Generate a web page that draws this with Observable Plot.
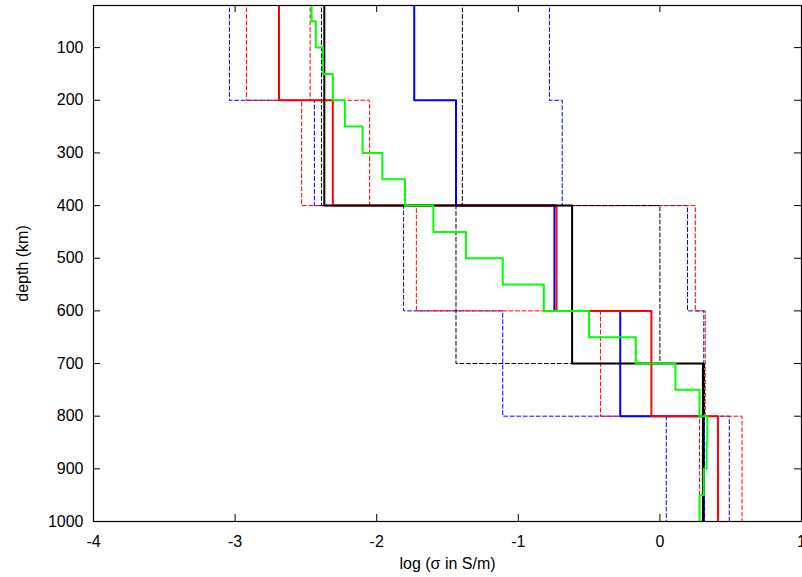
<!DOCTYPE html>
<html><head><meta charset="utf-8">
<script src="https://cdn.jsdelivr.net/npm/d3@7"></script>
<script src="https://cdn.jsdelivr.net/npm/@observablehq/plot@0.6"></script>
<style>html,body{margin:0;padding:0;overflow:hidden;background:#fff}</style>
</head><body><div id="chart"></div>
<script>
// layer boundaries (km) and log10 conductivity values per layer
const redDepths = [0, 200, 400, 600, 800, 1000];
const redMean = [-2.69, -2.31, -0.73, -0.06, 0.41];
const redLow = [-2.92, -2.53, -1.72, -0.42, 0.28];
const redHigh = [-2.47, -2.05, 0.25, 0.32, 0.58];

const blueDepths = [0, 200, 400, 600, 800, 1000];
const blueMean = [-1.735, -1.44, -0.745, -0.28, 0.31];
const blueLow = [-3.04, -2.44, -1.81, -1.11, 0.045];
const blueHigh = [-0.78, -0.69, 0.195, 0.31, 0.49];

const blackDepths = [0, 400, 700, 1000];
const blackMean = [-2.37, -0.62, 0.305];
const blackLow = [-2.39, -1.44, 0.30];
const blackHigh = [-1.395, 0.0, 0.315];

const greenDepths = [0, 50, 100, 150, 200, 250, 300, 350, 400, 450, 500, 550, 600, 650, 700, 750, 800, 850, 900, 950, 1000];
const greenValues = [-2.46, -2.43, -2.38, -2.31, -2.225, -2.10, -1.96, -1.80, -1.60, -1.37, -1.11, -0.82, -0.50, -0.17, 0.11, 0.28, 0.335, 0.33, 0.31, 0.28];

const xTicks = [-4, -3, -2, -1, 0, 1];
const yTicks = [100, 200, 300, 400, 500, 600, 700, 800, 900, 1000];
const xLabel = "log (σ in S/m)";
const yLabel = "depth (km)";

function steps(depths, values) {
  const pts = [];
  values.forEach((v, i) => { pts.push({x: v, y: depths[i]}); pts.push({x: v, y: depths[i + 1]}); });
  return pts;
}
const dash = "4,2.5";
const solid = (d, v, c) => Plot.line(steps(d, v), {x: "x", y: "y", stroke: c, strokeWidth: 2, clip: true});
const dashed = (d, v, c) => Plot.line(steps(d, v), {x: "x", y: "y", stroke: c, strokeWidth: 1, strokeDasharray: dash, clip: true});

const plot = Plot.plot({
  width: 802, height: 577,
  marginLeft: 93, marginRight: 1, marginTop: 5, marginBottom: 56,
  style: {fontFamily: "'Liberation Sans', Arial, sans-serif", fontSize: "16px", background: "white", overflow: "hidden", color: "black"},
  x: {domain: [-4, 1], axis: null},
  y: {domain: [20, 1000], reverse: true, axis: null},
  marks: [
    dashed(blueDepths, blueLow, "#0000ff"),
    dashed(blueDepths, blueHigh, "#0000ff"),
    dashed(redDepths, redLow, "#ff0000"),
    dashed(redDepths, redHigh, "#ff0000"),
    dashed(blackDepths, blackLow, "#000000"),
    dashed(blackDepths, blackHigh, "#000000"),
    solid(blueDepths, blueMean, "#0000ff"),
    solid(redDepths, redMean, "#ff0000"),
    solid(blackDepths, blackMean, "#000000"),
    solid(greenDepths, greenValues, "#00ff00"),
    Plot.frame({stroke: "black", strokeWidth: 1.2}),
    Plot.ruleX(xTicks, {x: d => d, y1: 1000, y2: 1000, insetTop: -7, stroke: "black"}),
    Plot.ruleX(xTicks, {x: d => d, y1: 20, y2: 20, insetBottom: -7, stroke: "black"}),
    Plot.ruleY(yTicks, {y: d => d, x1: -4, x2: -4, insetRight: -7, stroke: "black"}),
    Plot.ruleY(yTicks, {y: d => d, x1: 1, x2: 1, insetLeft: -7, stroke: "black"}),
    Plot.text(xTicks, {x: d => d, y: 1000, dy: 20, text: d => String(d), lineAnchor: "middle", textAnchor: "middle", fill: "black"}),
    Plot.text(yTicks, {x: -4, y: d => d, dx: -10, text: d => String(d), textAnchor: "end", lineAnchor: "middle", fill: "black"}),
    Plot.text([xLabel], {frameAnchor: "bottom", dy: 42, text: d => d, textAnchor: "middle", lineAnchor: "middle", fill: "black"}),
    Plot.text([yLabel], {frameAnchor: "left", dx: -71, rotate: -90, text: d => d, textAnchor: "middle", lineAnchor: "middle", fill: "black"})
  ]
});
document.getElementById("chart").append(plot);
</script>
</body></html>
